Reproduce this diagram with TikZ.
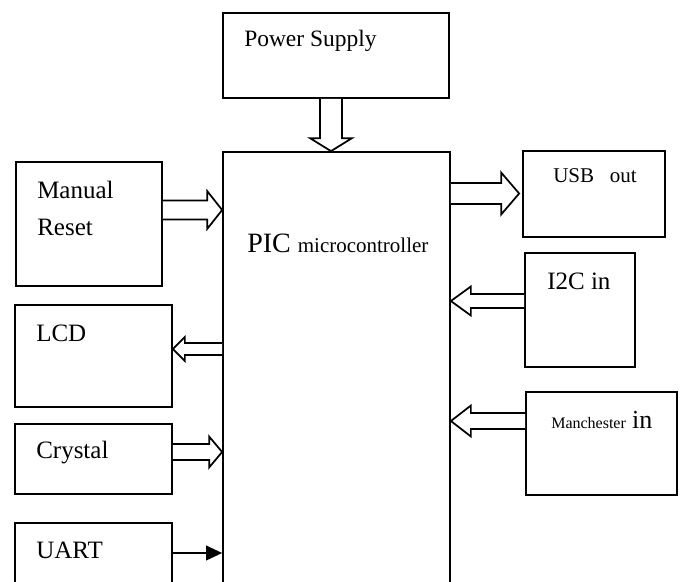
\documentclass[tikz,border=0pt]{standalone}
\usepackage{fontspec}
\setmainfont{Liberation Serif}
\usetikzlibrary{arrows.meta,calc}

% hollow block arrow: start, tip, half shaft, half head, head length, name
\newcommand{\fatarrow}[6]{%
  \coordinate (#6h) at ($(#2)!#5!(#1)$);
  \draw[fatarr] ($(#1)!#3!90:(#2)$) -- ($(#6h)!#3!-90:(#1)$)
    -- ($(#6h)!#4!-90:(#1)$) -- (#2) -- ($(#6h)!#4!90:(#1)$)
    -- ($(#6h)!#3!90:(#1)$) -- ($(#1)!#3!-90:(#2)$);
}

\begin{document}
\begin{tikzpicture}[
  x=0.75pt, y=-0.75pt,
  % Boxes
  blk/.style={draw, line width=1.3pt, inner sep=0pt, fill=white},
  % Labels
  txt/.style={anchor=base west, inner sep=0pt,
    font=\fontsize{18.75pt}{27.75pt}\selectfont},
  % Arrows
  fatarr/.style={draw, line width=1.3pt, line join=miter, fill=white},
  thinarr/.style={-{Triangle[length=12pt,width=11pt]}, line width=1.3pt},
]
\useasboundingbox (0,0) rectangle (684,581);
\clip (0,0) rectangle (684,581);

% -------------------------------------------------------
% TOP — Power supply and controller
% -------------------------------------------------------
\node[blk, minimum width=169.5pt, minimum height=63.75pt]  (ps)  at (336,55.5)  {};
\node[blk, minimum width=170.25pt, minimum height=366pt]   (pic) at (336.5,396) {};

\node[txt, font=\fontsize{17.6pt}{21pt}\selectfont] (pst) at (244,47) {Power Supply};
\node[txt, font=\fontsize{21pt}{25pt}\selectfont] (pict) at (247,252)
  {PIC {\fontsize{15.75pt}{19pt}\selectfont microcontroller}};

% -------------------------------------------------------
% LEFT — Inputs and display
% -------------------------------------------------------
\node[blk, minimum width=109.5pt,  minimum height=93pt]    (mr)   at (89,224)    {};
\node[blk, minimum width=117.75pt, minimum height=76.5pt]  (lcd)  at (93.5,356)  {};
\node[blk, minimum width=117.75pt, minimum height=52.5pt]  (cry)  at (93.5,459)  {};
\node[blk, minimum width=117.75pt, minimum height=87.75pt] (uart) at (93.5,581.5) {};

\node[txt, align=left] (mrt)   at (37,235) {Manual\\Reset};
\node[txt]             (lcdt)  at (36,341) {LCD};
\node[txt]             (cryt)  at (36,458) {Crystal};
\node[txt]             (uartt) at (36,558) {UART};

% -------------------------------------------------------
% RIGHT — Bus ports
% -------------------------------------------------------
\node[blk, minimum width=106.5pt,  minimum height=64.5pt]  (usb) at (594,194)   {};
\node[blk, minimum width=82.5pt,   minimum height=85.5pt]  (i2c) at (580,310)   {};
\node[blk, minimum width=113.25pt, minimum height=77.25pt] (man) at (601.5,443.5) {};

\node[txt, font=\fontsize{15.75pt}{19pt}\selectfont] (usbt) at (553,182) {USB\ \ \ out};
\node[txt] (i2ct) at (547,289) {I2C in};
\node[txt] (mant) at (551,428)
  {{\fontsize{12pt}{14pt}\selectfont Manchester} {\fontsize{19.5pt}{22pt}\selectfont in}};

% -------------------------------------------------------
% ARROWS
% -------------------------------------------------------
\coordinate (pwrA) at (331,0 |- ps.south);
\coordinate (pwrB) at (331,0 |- pic.north);
\fatarrow{pwrA}{pwrB}{8.25pt}{15.75pt}{9.75pt}{pwr}

\coordinate (mrA) at (mr.east |- 0,210);
\coordinate (mrB) at (pic.west |- mrA);
\fatarrow{mrA}{mrB}{7.1pt}{14.25pt}{11.25pt}{mra}

\coordinate (usbA) at (pic.east |- 0,193.5);
\coordinate (usbB) at ($(usb.west |- usbA)+(-3,0)$);
\fatarrow{usbA}{usbB}{7.9pt}{15.75pt}{13.5pt}{usba}

\coordinate (i2cA) at (i2c.west |- 0,301);
\coordinate (i2cB) at (pic.east |- i2cA);
\fatarrow{i2cA}{i2cB}{5.25pt}{10.9pt}{15pt}{i2ca}

\coordinate (manA) at (man.west |- 0,421);
\coordinate (manB) at (pic.east |- manA);
\fatarrow{manA}{manB}{6pt}{11.6pt}{15pt}{mana}

\coordinate (lcdA) at (pic.west |- 0,349);
\coordinate (lcdB) at (lcd.east |- lcdA);
\fatarrow{lcdA}{lcdB}{4.5pt}{9pt}{9pt}{lcda}

\coordinate (cryA) at (cry.east |- 0,452);
\coordinate (cryB) at (pic.west |- cryA);
\fatarrow{cryA}{cryB}{6pt}{11.6pt}{9.75pt}{crya}

\coordinate (uartA) at (uart.east |- 0,553);
\coordinate (uartB) at (pic.west |- uartA);
\draw[thinarr] (uartA) -- (uartB);

\end{tikzpicture}
\end{document}
